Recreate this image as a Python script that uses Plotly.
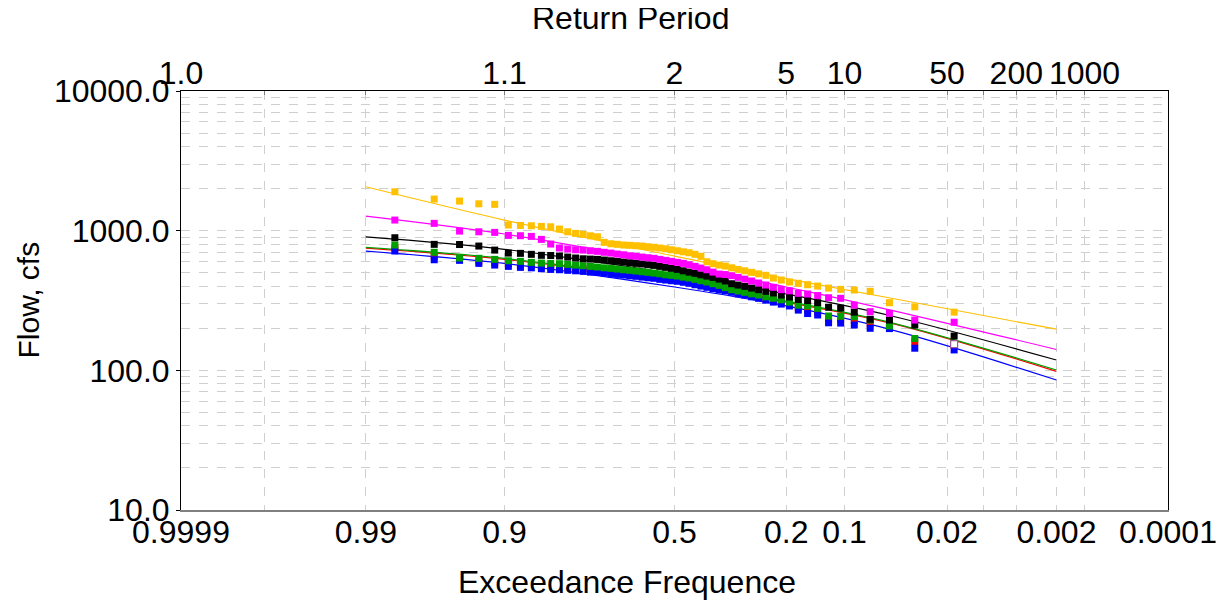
import plotly.graph_objects as go
from statistics import NormalDist

_nd = NormalDist()


def zpos(p_exceed):
    return _nd.inv_cdf(1.0 - p_exceed)


# ---------------- data ----------------
N_YEARS = 56  # observations per series (Weibull plotting positions)

yellow = [1899, 1684, 1629, 1558, 1543, 1097, 1090, 1084, 1073, 1066, 1027, 982, 956, 941, 919,
          904, 825, 806, 798, 789, 785, 780, 776, 767, 760, 751, 742, 730, 718, 706,
          695, 677, 655, 599, 580, 567, 558, 542, 528, 516, 503, 491, 479, 458, 443,
          429, 420, 410, 401, 388, 380, 376, 368, 305, 285, 261]
magenta = [1191, 1128, 993, 982, 972, 925, 920, 910, 866, 802, 751, 739, 730, 726, 718,
           711, 700, 691, 680, 672, 661, 655, 647, 640, 634, 623, 613, 603, 593, 583,
           570, 555, 540, 525, 505, 489, 485, 476, 463, 450, 436, 422, 408, 393, 378,
           371, 356, 352, 343, 331, 328, 293, 263, 256, 229, 221]
black = [890, 798, 796, 776, 726, 691, 688, 677, 666, 664, 658, 647, 637, 629, 626,
         623, 616, 609, 603, 596, 589, 583, 577, 570, 564, 555, 546, 537, 528, 516,
         505, 495, 483, 473, 463, 450, 436, 417, 408, 399, 388, 378, 368, 358, 346,
         335, 322, 316, 305, 283, 279, 261, 232, 229, 211, 176]
green = [789, 700, 637, 634, 623, 609, 603, 593, 586, 583, 580, 574, 567, 561, 555,
         549, 542, 537, 531, 525, 520, 514, 508, 503, 497, 491, 483, 479, 473, 465,
         458, 448, 438, 429, 417, 406, 391, 378, 370, 362, 353, 346, 336, 328, 320,
         308, 293, 289, 278, 245, 244, 242, 229, 208, 169, 154]
red = [752, 655, 622, 605, 592, 580, 572, 566, 558, 553, 550, 545, 539, 534, 528,
       524, 518, 512, 507, 501, 496, 490, 485, 480, 474, 468, 461, 456, 451, 444,
       437, 427, 418, 409, 399, 389, 379, 369, 360, 352, 343, 335, 326, 316, 307,
       297, 281, 271, 262, 233, 232, 228, 215, 204, 160, 150]
blue = [715, 619, 613, 583, 567, 555, 546, 542, 534, 528, 525, 520, 516, 511, 505,
        503, 497, 491, 486, 481, 475, 471, 465, 460, 456, 448, 443, 438, 434, 427,
        420, 410, 401, 393, 384, 376, 370, 362, 353, 346, 336, 328, 318, 308, 298,
        289, 270, 255, 249, 219, 218, 211, 200, 199, 144, 140]

# fitted frequency curves, values read at these exceedance probabilities
fit_prob = [0.99, 0.9, 0.5, 0.2, 0.05, 0.002]
fit_yellow = [2062, 1191, 658, 454, 327, 197]
fit_magenta = [1272, 946, 577, 395, 268, 141]
fit_black = [904, 735, 489, 352, 244, 118.5]
fit_green = [760, 633, 436, 313, 218, 100.5]
fit_red = [751, 623, 429, 308, 216, 98.4]
fit_blue = [714, 583, 395, 289, 194, 85.2]

# hollow (flagged) point
flag_rank = [56]
flag_value = [154]

# axis ticks
bottom_tick_prob = [0.9999, 0.999, 0.99, 0.9, 0.5, 0.2, 0.1, 0.02, 0.01, 0.005, 0.002, 0.001, 0.0001]
bottom_tick_text = ["0.9999", "", "0.99", "0.9", "0.5", "0.2", "0.1", "0.02", "", "", "0.002", "", "0.0001"]
top_tick_prob = [0.9999, 0.999, 0.99, 0.9, 0.5, 0.2, 0.1, 0.02, 0.01, 0.005, 0.002, 0.001]
top_tick_text = ["1.0", "", "", "1.1", "2", "5", "10", "50", "", "200", "", "1000"]
y_tick_vals = [10, 100, 1000, 10000]
y_tick_text = ["10.0", "100.0", "1000.0", "10000.0"]

# ---------------- figure ----------------
FONT = "Liberation Sans, Arial, sans-serif"
GRID = "#CFCFCF"
TICK_SIZE = 32
TITLE_SIZE = 32

x_pts = [zpos(1.0 - k / (N_YEARS + 1)) for k in range(1, N_YEARS + 1)]
x_fit = [zpos(p) for p in fit_prob]

fig = go.Figure()

series = [
    ("Red", red, fit_red, "#FF0000"),
    ("Blue", blue, fit_blue, "#0000FF"),
    ("Green", green, fit_green, "#00A000"),
    ("Black", black, fit_black, "#000000"),
    ("Magenta", magenta, fit_magenta, "#FF00FF"),
    ("Yellow", yellow, fit_yellow, "#FFC000"),
]

for name, vals, fit, col in series:
    fig.add_trace(go.Scatter(x=x_fit, y=fit, mode="lines", line=dict(color=col, width=1.2, shape="spline"),
                             hoverinfo="skip", showlegend=False, name=name + " fit"))

for name, vals, fit, col in series:
    fig.add_trace(go.Scatter(x=x_pts, y=vals, mode="markers",
                             marker=dict(symbol="square", size=7, color=col, line=dict(width=0)),
                             showlegend=False, name=name))

fig.add_trace(go.Scatter(x=[x_pts[r - 1] for r in flag_rank], y=flag_value, mode="markers",
                         marker=dict(symbol="square", size=7, color="white",
                                     line=dict(color="#9A5A9A", width=1.2)),
                         showlegend=False, name="flagged"))

# invisible trace to carry the top axis
fig.add_trace(go.Scatter(x=[x_fit[0]], y=[fit_black[0]], xaxis="x2", mode="markers",
                         marker=dict(opacity=0), hoverinfo="skip", showlegend=False))

xr = [zpos(0.9999), zpos(0.0001)]

minor_vals = [m * 10 ** e for e in (1, 2, 3) for m in range(2, 10)]

fig.update_layout(
    width=1226, height=604,
    paper_bgcolor="white", plot_bgcolor="white",
    margin=dict(l=173, r=66, t=83, b=102, autoexpand=False),
    font=dict(family=FONT, size=TICK_SIZE, color="black"),
    xaxis=dict(range=xr, tickmode="array", tickvals=[zpos(p) for p in bottom_tick_prob],
               ticktext=bottom_tick_text, ticks="", showgrid=True, gridcolor=GRID,
               griddash="dash", gridwidth=1, zeroline=False, showline=True,
               linecolor="#808080", linewidth=2, tickfont=dict(size=TICK_SIZE),
               automargin=False, ticklabelstandoff=-7),
    xaxis2=dict(range=xr, overlaying="x", side="top", tickmode="array",
                tickvals=[zpos(p) for p in top_tick_prob], ticktext=top_tick_text,
                ticks="inside", ticklen=4, tickcolor="#808080", showgrid=False,
                zeroline=False, showline=True, linecolor="black", linewidth=1,
                tickfont=dict(size=TICK_SIZE), automargin=False, ticklabelstandoff=-7),
    yaxis=dict(type="log", range=[1, 4], tickmode="array", tickvals=y_tick_vals,
               ticktext=y_tick_text, ticks="outside", ticklen=4, tickcolor="black",
               showgrid=True, gridcolor=GRID, griddash="dash", gridwidth=1,
               showline=True, linecolor="black", linewidth=1, mirror=True,
               zeroline=False, tickfont=dict(size=TICK_SIZE), automargin=False,
               minor=dict(tickmode="array", tickvals=minor_vals, showgrid=True,
                          gridcolor=GRID, griddash="dash", gridwidth=1, ticks="")),
    annotations=[
        dict(text="Return Period", xref="paper", yref="paper", x=0.455, y=1.0,
             yanchor="middle", yshift=73, showarrow=False, font=dict(size=TITLE_SIZE)),
        dict(text="Exceedance Frequence", xref="paper", yref="paper", x=0.452, y=0.0,
             yanchor="middle", yshift=-72, showarrow=False, font=dict(size=TITLE_SIZE)),
        dict(text="Flow, cfs", xref="paper", yref="paper", x=0.0, y=0.5, xshift=-153,
             xanchor="center", yanchor="middle", textangle=-90, showarrow=False,
             font=dict(size=TITLE_SIZE - 2)),
    ],
)

fig.write_html("out.html")
